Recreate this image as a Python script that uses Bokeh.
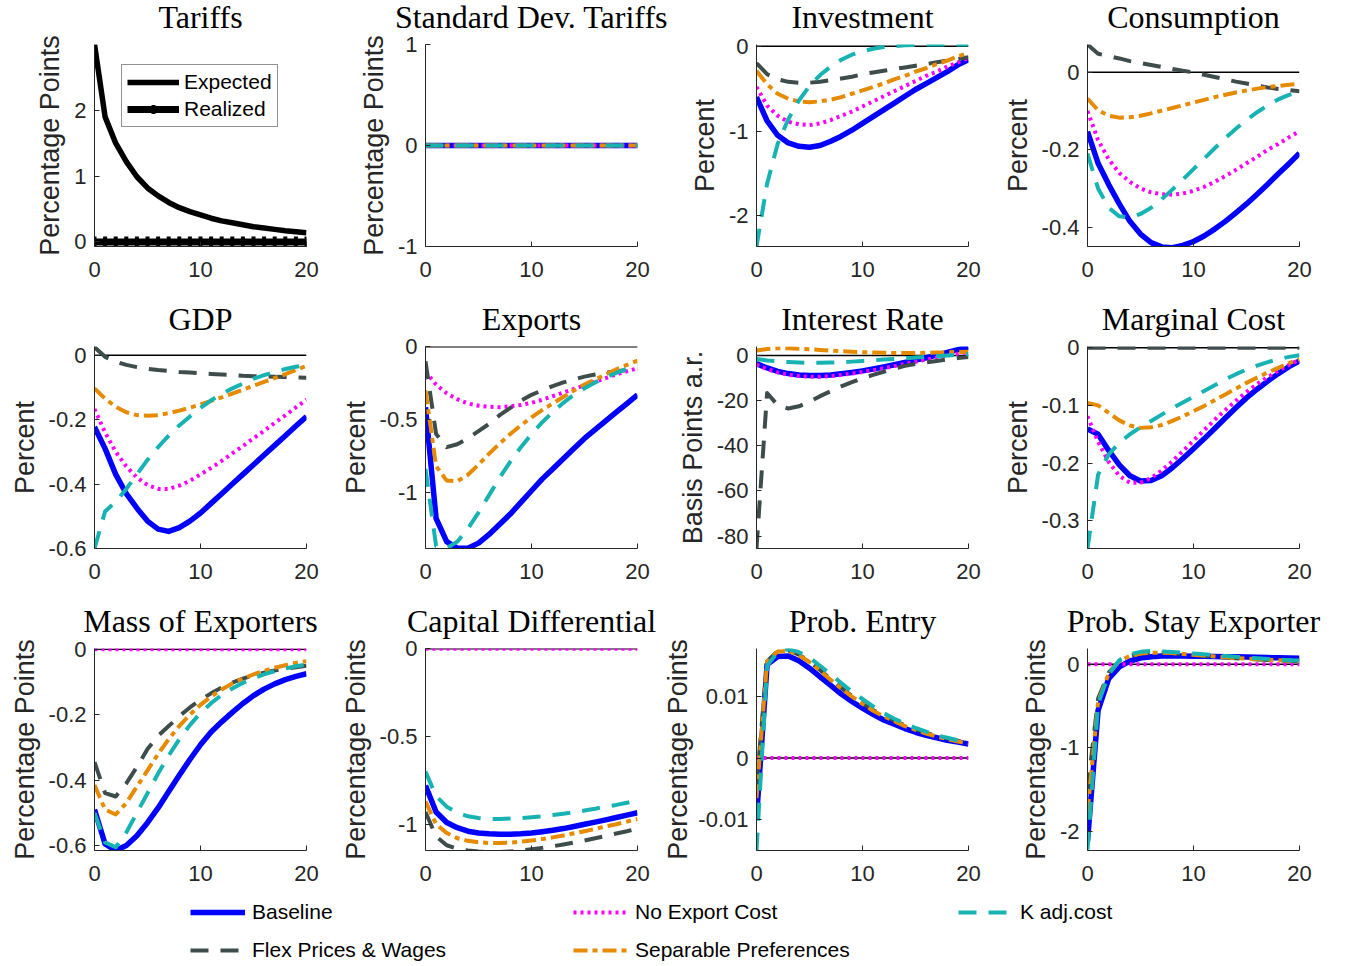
from bokeh.plotting import figure
from bokeh.models import Range1d, FixedTicker, CustomJSTickFormatter, Legend, LegendItem, Span
from bokeh.layouts import column, row
from bokeh.embed import file_html
from bokeh.resources import INLINE

periods = [0, 1, 2, 3, 4, 5, 6, 7, 8, 9, 10, 11, 12, 13, 14, 15, 16, 17, 18, 19, 20]
zeros = [0, 0, 0, 0, 0, 0, 0, 0, 0, 0, 0, 0, 0, 0, 0, 0, 0, 0, 0, 0, 0]
x_ticks = [0, 10, 20]

# ---------------- Tariffs ----------------
tariffs_expected = [3.0, 1.9, 1.5, 1.22, 0.99, 0.82, 0.70, 0.60, 0.52, 0.46, 0.41,
                    0.36, 0.32, 0.29, 0.26, 0.23, 0.21, 0.19, 0.17, 0.155, 0.14]
tariffs_realized = [0, 0, 0, 0, 0, 0, 0, 0, 0, 0, 0, 0, 0, 0, 0, 0, 0, 0, 0, 0, 0]

scenario_names = ["Baseline", "No Export Cost", "K adj.cost",
                  "Flex Prices & Wages", "Separable Preferences"]

# ---------------- Investment ----------------
inv_base = [-0.60, -0.88, -1.05, -1.14, -1.18, -1.19, -1.17, -1.12, -1.06, -0.99, -0.91,
            -0.83, -0.75, -0.67, -0.59, -0.51, -0.44, -0.37, -0.30, -0.22, -0.16]
inv_noexp = [-0.48, -0.70, -0.82, -0.89, -0.92, -0.93, -0.91, -0.87, -0.82, -0.77, -0.71,
             -0.65, -0.59, -0.53, -0.47, -0.41, -0.35, -0.30, -0.24, -0.19, -0.14]
inv_kadj = [-2.36, -1.62, -1.15, -0.86, -0.64, -0.47, -0.34, -0.24, -0.16, -0.10, -0.06,
            -0.03, -0.01, 0.0, 0.01, 0.015, 0.02, 0.02, 0.02, 0.02, 0.02]
inv_flex = [-0.20, -0.33, -0.39, -0.42, -0.43, -0.43, -0.42, -0.40, -0.38, -0.36, -0.33,
            -0.31, -0.29, -0.27, -0.25, -0.23, -0.21, -0.19, -0.17, -0.15, -0.13]
inv_sep = [-0.29, -0.45, -0.56, -0.62, -0.65, -0.66, -0.65, -0.63, -0.60, -0.56, -0.52,
           -0.48, -0.44, -0.39, -0.35, -0.30, -0.26, -0.21, -0.17, -0.12, -0.08]

# ---------------- Consumption ----------------
con_base = [-0.153, -0.235, -0.29, -0.34, -0.385, -0.418, -0.44, -0.451, -0.453, -0.447, -0.437,
            -0.423, -0.405, -0.385, -0.363, -0.34, -0.315, -0.289, -0.262, -0.236, -0.209]
con_noexp = [-0.10, -0.175, -0.225, -0.26, -0.283, -0.30, -0.31, -0.315, -0.316, -0.313, -0.306,
             -0.296, -0.283, -0.268, -0.252, -0.235, -0.218, -0.20, -0.185, -0.168, -0.152]
con_kadj = [-0.21, -0.30, -0.35, -0.372, -0.375, -0.366, -0.35, -0.328, -0.303, -0.277, -0.25,
            -0.223, -0.196, -0.17, -0.146, -0.123, -0.103, -0.085, -0.07, -0.058, -0.05]
con_flex = [0.072, 0.048, 0.042, 0.036, 0.029, 0.024, 0.019, 0.014, 0.009, 0.004, 0.0,
            -0.006, -0.012, -0.018, -0.024, -0.029, -0.034, -0.039, -0.043, -0.046, -0.049]
con_sep = [-0.068, -0.098, -0.112, -0.117, -0.116, -0.112, -0.106, -0.099, -0.092, -0.085, -0.078,
           -0.071, -0.064, -0.058, -0.052, -0.047, -0.042, -0.038, -0.035, -0.032, -0.030]

# ---------------- GDP ----------------
gdp_base = [-0.223, -0.29, -0.37, -0.43, -0.475, -0.515, -0.54, -0.547, -0.535, -0.515, -0.49,
            -0.46, -0.43, -0.40, -0.37, -0.34, -0.31, -0.28, -0.25, -0.22, -0.19]
gdp_noexp = [-0.167, -0.24, -0.30, -0.345, -0.38, -0.403, -0.415, -0.415, -0.405, -0.39, -0.37,
             -0.35, -0.328, -0.305, -0.282, -0.258, -0.235, -0.21, -0.187, -0.162, -0.138]
gdp_kadj = [-0.60, -0.485, -0.455, -0.415, -0.37, -0.325, -0.285, -0.25, -0.218, -0.19, -0.164,
            -0.14, -0.12, -0.103, -0.088, -0.073, -0.062, -0.052, -0.043, -0.036, -0.03]
gdp_flex = [0.025, -0.005, -0.02, -0.03, -0.037, -0.042, -0.046, -0.049, -0.052, -0.054, -0.056,
            -0.058, -0.06, -0.062, -0.064, -0.065, -0.066, -0.067, -0.068, -0.069, -0.07]
gdp_sep = [-0.103, -0.135, -0.16, -0.177, -0.186, -0.188, -0.186, -0.18, -0.172, -0.163, -0.153,
           -0.142, -0.131, -0.119, -0.107, -0.095, -0.083, -0.071, -0.059, -0.046, -0.033]

# ---------------- Exports ----------------
exp_base = [-0.415, -1.18, -1.34, -1.385, -1.385, -1.35, -1.29, -1.22, -1.15, -1.07, -0.99,
            -0.91, -0.84, -0.77, -0.70, -0.63, -0.57, -0.51, -0.45, -0.39, -0.33]
exp_noexp = [-0.17, -0.26, -0.32, -0.36, -0.39, -0.405, -0.412, -0.415, -0.41, -0.40, -0.385,
             -0.365, -0.34, -0.315, -0.29, -0.265, -0.24, -0.215, -0.19, -0.168, -0.148]
exp_kadj = [-0.84, -1.37, -1.385, -1.34, -1.25, -1.14, -1.02, -0.90, -0.79, -0.69, -0.60,
            -0.52, -0.45, -0.385, -0.33, -0.285, -0.245, -0.21, -0.18, -0.15, -0.125]
exp_flex = [-0.10, -0.60, -0.69, -0.67, -0.63, -0.58, -0.53, -0.47, -0.42, -0.37, -0.33,
            -0.30, -0.27, -0.245, -0.225, -0.205, -0.19, -0.178, -0.168, -0.16, -0.155]
exp_sep = [-0.30, -0.82, -0.92, -0.925, -0.88, -0.81, -0.735, -0.665, -0.60, -0.54, -0.485,
           -0.435, -0.39, -0.345, -0.30, -0.26, -0.225, -0.19, -0.155, -0.125, -0.095]

# ---------------- Interest Rate ----------------
ir_base = [-3.6, -5.5, -7.0, -8.0, -8.6, -8.9, -8.9, -8.6, -8.1, -7.5, -6.8,
           -6.0, -5.1, -4.1, -3.1, -2.0, -1.0, 0.2, 1.4, 2.6, 3.8]
ir_noexp = [-4.0, -6.0, -7.5, -8.5, -9.1, -9.4, -9.4, -9.1, -8.6, -8.0, -7.3,
            -6.5, -5.6, -4.7, -3.7, -2.8, -1.8, -0.9, 0.0, 0.8, 1.5]
ir_kadj = [-1.5, -2.2, -2.6, -2.9, -3.1, -3.2, -3.2, -3.1, -3.0, -2.7, -2.4,
           -2.1, -1.8, -1.5, -1.2, -0.9, -0.6, -0.3, 0.0, 0.3, 0.6]
ir_flex = [-85.4, -16.6, -22.0, -23.5, -22.5, -20.5, -18.0, -15.8, -13.7, -11.8, -10.0,
           -8.6, -7.2, -5.8, -4.6, -3.7, -3.0, -2.4, -1.7, -1.1, -0.7]
ir_sep = [2.2, 2.9, 3.2, 3.2, 3.0, 2.8, 2.5, 2.2, 1.9, 1.7, 1.5,
          1.3, 1.2, 1.1, 1.1, 1.1, 1.2, 1.3, 1.4, 1.6, 1.7]

# ---------------- Marginal Cost ----------------
mc_base = [-0.141, -0.150, -0.178, -0.203, -0.222, -0.231, -0.230, -0.222, -0.208, -0.192, -0.175,
           -0.158, -0.140, -0.122, -0.104, -0.087, -0.072, -0.058, -0.045, -0.033, -0.023]
mc_noexp = [-0.119, -0.163, -0.198, -0.222, -0.234, -0.234, -0.226, -0.213, -0.197, -0.179, -0.161,
            -0.143, -0.125, -0.108, -0.092, -0.077, -0.063, -0.051, -0.040, -0.030, -0.021]
mc_kadj = [-0.348, -0.22, -0.185, -0.165, -0.15, -0.138, -0.127, -0.116, -0.105, -0.095, -0.085,
           -0.075, -0.065, -0.055, -0.046, -0.038, -0.031, -0.025, -0.020, -0.016, -0.013]
mc_flex = [0, 0, 0, 0, 0, 0, 0, 0, 0, 0, 0, 0, 0, 0, 0, 0, 0, 0, 0, 0, 0]
mc_sep = [-0.096, -0.100, -0.113, -0.126, -0.135, -0.139, -0.138, -0.134, -0.127, -0.119, -0.110,
          -0.101, -0.091, -0.081, -0.071, -0.061, -0.052, -0.043, -0.035, -0.027, -0.020]

# ---------------- Mass of Exporters ----------------
mass_base = [-0.49, -0.595, -0.615, -0.60, -0.57, -0.53, -0.485, -0.435, -0.385, -0.337, -0.292,
             -0.253, -0.222, -0.193, -0.166, -0.142, -0.122, -0.106, -0.093, -0.083, -0.075]
mass_noexp = [0, 0, 0, 0, 0, 0, 0, 0, 0, 0, 0, 0, 0, 0, 0, 0, 0, 0, 0, 0, 0]
mass_kadj = [-0.50, -0.59, -0.605, -0.56, -0.50, -0.44, -0.38, -0.325, -0.275, -0.232, -0.195,
             -0.165, -0.14, -0.12, -0.103, -0.089, -0.077, -0.067, -0.059, -0.052, -0.047]
mass_flex = [-0.345, -0.44, -0.45, -0.41, -0.36, -0.305, -0.265, -0.235, -0.205, -0.178, -0.155,
             -0.135, -0.117, -0.102, -0.09, -0.08, -0.072, -0.065, -0.06, -0.055, -0.051]
mass_sep = [-0.415, -0.49, -0.505, -0.47, -0.42, -0.37, -0.32, -0.275, -0.235, -0.20, -0.17,
            -0.145, -0.123, -0.105, -0.09, -0.077, -0.066, -0.057, -0.049, -0.042, -0.037]

# ---------------- Capital Differential ----------------
cap_base = [-0.78, -0.93, -0.99, -1.02, -1.04, -1.05, -1.055, -1.058, -1.058, -1.055, -1.05,
            -1.043, -1.035, -1.025, -1.013, -1.0, -0.988, -0.975, -0.962, -0.948, -0.935]
cap_noexp = [0, 0, 0, 0, 0, 0, 0, 0, 0, 0, 0, 0, 0, 0, 0, 0, 0, 0, 0, 0, 0]
cap_kadj = [-0.70, -0.84, -0.90, -0.935, -0.955, -0.965, -0.97, -0.97, -0.968, -0.965, -0.96,
            -0.955, -0.948, -0.94, -0.932, -0.922, -0.912, -0.90, -0.89, -0.878, -0.865]
cap_flex = [-0.93, -1.07, -1.12, -1.14, -1.15, -1.155, -1.158, -1.158, -1.155, -1.15, -1.143,
            -1.135, -1.126, -1.116, -1.105, -1.093, -1.08, -1.067, -1.053, -1.04, -1.025]
cap_sep = [-0.87, -1.0, -1.05, -1.08, -1.095, -1.103, -1.107, -1.107, -1.105, -1.10, -1.093,
           -1.085, -1.075, -1.064, -1.052, -1.04, -1.027, -1.013, -1.0, -0.985, -0.97]

# ---------------- Prob. Entry ----------------
ent_base = [-0.0097, 0.0152, 0.0165, 0.0166, 0.0158, 0.0146, 0.0132, 0.0118, 0.0104, 0.0092, 0.0081,
            0.0071, 0.0062, 0.0055, 0.0048, 0.0042, 0.0037, 0.0033, 0.0029, 0.0026, 0.0023]
ent_noexp = [0, 0, 0, 0, 0, 0, 0, 0, 0, 0, 0, 0, 0, 0, 0, 0, 0, 0, 0, 0, 0]
ent_kadj = [-0.015, 0.015, 0.0172, 0.0177, 0.0172, 0.0163, 0.015, 0.0136, 0.0122, 0.0108, 0.0096,
            0.0084, 0.0073, 0.0064, 0.0056, 0.0049, 0.0043, 0.0037, 0.0033, 0.0029, 0.0025]
ent_flex = [-0.0045, 0.0157, 0.0174, 0.0175, 0.0168, 0.0157, 0.0143, 0.0128, 0.0114, 0.0101, 0.0089,
            0.0078, 0.0069, 0.0061, 0.0053, 0.0047, 0.0041, 0.0036, 0.0032, 0.0028, 0.0025]
ent_sep = [-0.0065, 0.0157, 0.0173, 0.0174, 0.0167, 0.0156, 0.0142, 0.0127, 0.0113, 0.010, 0.0088,
           0.0077, 0.0068, 0.006, 0.0052, 0.0046, 0.004, 0.0035, 0.0031, 0.0027, 0.0024]

# ---------------- Prob. Stay Exporter ----------------
stay_base = [-2.12, -0.55, -0.17, -0.03, 0.04, 0.075, 0.09, 0.10, 0.10, 0.10, 0.098,
             0.096, 0.094, 0.092, 0.09, 0.087, 0.084, 0.081, 0.078, 0.075, 0.072]
stay_noexp = [0, 0, 0, 0, 0, 0, 0, 0, 0, 0, 0, 0, 0, 0, 0, 0, 0, 0, 0, 0, 0]
stay_kadj = [-2.22, -0.47, -0.12, 0.05, 0.12, 0.15, 0.16, 0.155, 0.148, 0.14, 0.13,
             0.12, 0.11, 0.10, 0.09, 0.08, 0.072, 0.064, 0.057, 0.05, 0.045]
stay_flex = [-1.51, -0.41, -0.10, 0.04, 0.10, 0.13, 0.14, 0.14, 0.133, 0.123, 0.113,
             0.103, 0.093, 0.083, 0.074, 0.066, 0.059, 0.053, 0.048, 0.043, 0.038]
stay_sep = [-1.78, -0.45, -0.11, 0.04, 0.10, 0.13, 0.14, 0.14, 0.135, 0.125, 0.115,
            0.105, 0.095, 0.085, 0.076, 0.068, 0.061, 0.055, 0.05, 0.045, 0.04]

# ---------------- Standard Dev. Tariffs ----------------
sd_all = [0, 0, 0, 0, 0, 0, 0, 0, 0, 0, 0, 0, 0, 0, 0, 0, 0, 0, 0, 0, 0]

# ---------------- styling ----------------
STYLE = {
    "Baseline": dict(line_color="#0000FF", line_width=5.5),
    "No Export Cost": dict(line_color="#FF00FF", line_width=4, line_dash="3 4"),
    "K adj.cost": dict(line_color="#17B3B3", line_width=4, line_dash="18 12"),
    "Flex Prices & Wages": dict(line_color="#3E4C4C", line_width=4, line_dash="18 12"),
    "Separable Preferences": dict(line_color="#E68A00", line_width=4, line_dash="14 5 5 5"),
}
DRAW_ORDER = ["Baseline", "No Export Cost", "Flex Prices & Wages", "Separable Preferences", "K adj.cost"]

AX_COLOR = "#262626"
TICK_FONT = "Liberation Sans"
FRAME_W = 212
FRAME_H = 202
TOP = 61
COL_W = 331
LEFT = 94
ROW_HEIGHTS = [302, 302, 311]


def make_panel(title, ylabel, ymin, ymax, yticks, row_i, width=COL_W, left=LEFT,
               label_standoff=6):
    height = ROW_HEIGHTS[row_i]
    p = figure(width=width, height=height, output_backend="svg", toolbar_location=None,
               x_range=Range1d(0, 20), y_range=Range1d(ymin, ymax),
               min_border_left=left, min_border_right=width - left - FRAME_W,
               min_border_top=TOP, min_border_bottom=height - TOP - FRAME_H,
               title=title)
    p.title.text_font = "Liberation Serif"
    p.title.text_font_size = "32px"
    p.title.text_font_style = "normal"
    p.title.text_color = "black"
    p.title.align = "center"
    p.title.standoff = 19
    p.outline_line_color = None
    p.grid.visible = False
    p.background_fill_color = "white"
    p.border_fill_color = "white"
    fmt = CustomJSTickFormatter(code="return String(Math.round(tick*10000)/10000);")
    p.xaxis.ticker = FixedTicker(ticks=x_ticks, minor_ticks=[])
    p.yaxis.ticker = FixedTicker(ticks=yticks, minor_ticks=[])
    for ax in (p.xaxis[0], p.yaxis[0]):
        ax.formatter = fmt
        ax.major_tick_in = 5
        ax.major_tick_out = 0
        ax.minor_tick_in = 0
        ax.minor_tick_out = 0
        ax.axis_line_color = AX_COLOR
        ax.axis_line_width = 1
        ax.major_tick_line_color = AX_COLOR
        ax.major_label_text_font = TICK_FONT
        ax.major_label_text_font_size = "22px"
        ax.major_label_text_color = AX_COLOR
    p.xaxis.major_label_standoff = 15
    p.yaxis.major_label_standoff = 8
    p.yaxis.axis_label = ylabel
    p.yaxis.axis_label_text_font = TICK_FONT
    p.yaxis.axis_label_text_font_size = "27px"
    p.yaxis.axis_label_text_font_style = "normal"
    p.yaxis.axis_label_text_color = AX_COLOR
    p.yaxis.axis_label_standoff = label_standoff
    return p


def add_series(p, series, zero_line=True):
    if zero_line:
        p.add_layout(Span(location=0, dimension="width", line_color="black",
                          line_width=1.5, level="underlay"))
    for name in DRAW_ORDER:
        p.line(periods, series[name], line_join="round", **STYLE[name])


# Tariffs panel
p_tar = make_panel("Tariffs", "Percentage Points", -0.07, 3.0, [0, 1, 2], 0)
r_exp = p_tar.line(periods, tariffs_expected, line_color="black", line_width=5.5, line_join="round")
r_real = p_tar.line(periods, tariffs_realized, line_color="black", line_width=7)
r_real_m = p_tar.scatter(periods, tariffs_realized, marker="cross", size=11,
                         line_color="black", line_width=4)
tar_leg = Legend(items=[LegendItem(label="Expected", renderers=[r_exp]),
                        LegendItem(label="Realized", renderers=[r_real, r_real_m])],
                 location=(27, 119))
tar_leg.label_text_font = TICK_FONT
tar_leg.label_text_font_size = "21px"
tar_leg.label_text_color = "black"
tar_leg.border_line_color = AX_COLOR
tar_leg.border_line_width = 1
tar_leg.glyph_width = 52
tar_leg.glyph_height = 22
tar_leg.label_height = 22
tar_leg.label_standoff = 5
tar_leg.padding = 5
tar_leg.spacing = 3
tar_leg.margin = 0
tar_leg.background_fill_color = "white"
tar_leg.background_fill_alpha = 1
p_tar.add_layout(tar_leg)

p_sd = make_panel("Standard Dev. Tariffs", "Percentage Points", -1, 1, [-1, 0, 1], 0,
                  width=COL_W + 10)
add_series(p_sd, {n: sd_all for n in scenario_names})

p_inv = make_panel("Investment", "Percent", -2.36, 0.02, [-2, -1, 0], 0,
                   width=COL_W - 10, left=LEFT - 10)
add_series(p_inv, {"Baseline": inv_base, "No Export Cost": inv_noexp, "K adj.cost": inv_kadj,
                   "Flex Prices & Wages": inv_flex, "Separable Preferences": inv_sep})

p_con = make_panel("Consumption", "Percent", -0.45, 0.072, [-0.4, -0.2, 0], 0)
add_series(p_con, {"Baseline": con_base, "No Export Cost": con_noexp, "K adj.cost": con_kadj,
                   "Flex Prices & Wages": con_flex, "Separable Preferences": con_sep})

p_gdp = make_panel("GDP", "Percent", -0.6, 0.027, [-0.6, -0.4, -0.2, 0], 1)
add_series(p_gdp, {"Baseline": gdp_base, "No Export Cost": gdp_noexp, "K adj.cost": gdp_kadj,
                   "Flex Prices & Wages": gdp_flex, "Separable Preferences": gdp_sep})

p_exp = make_panel("Exports", "Percent", -1.387, 0.002, [-1, -0.5, 0], 1)
add_series(p_exp, {"Baseline": exp_base, "No Export Cost": exp_noexp, "K adj.cost": exp_kadj,
                   "Flex Prices & Wages": exp_flex, "Separable Preferences": exp_sep})

p_ir = make_panel("Interest Rate", "Basis Points a.r.", -85.5, 4.0, [-80, -60, -40, -20, 0], 1)
add_series(p_ir, {"Baseline": ir_base, "No Export Cost": ir_noexp, "K adj.cost": ir_kadj,
                  "Flex Prices & Wages": ir_flex, "Separable Preferences": ir_sep})

p_mc = make_panel("Marginal Cost", "Percent", -0.348, 0.002, [-0.3, -0.2, -0.1, 0], 1)
add_series(p_mc, {"Baseline": mc_base, "No Export Cost": mc_noexp, "K adj.cost": mc_kadj,
                  "Flex Prices & Wages": mc_flex, "Separable Preferences": mc_sep})

p_mass = make_panel("Mass of Exporters", "Percentage Points", -0.615, 0.002,
                    [-0.6, -0.4, -0.2, 0], 2)
add_series(p_mass, {"Baseline": mass_base, "No Export Cost": mass_noexp, "K adj.cost": mass_kadj,
                    "Flex Prices & Wages": mass_flex, "Separable Preferences": mass_sep})

p_cap = make_panel("Capital Differential", "Percentage Points", -1.15, 0.002, [-1, -0.5, 0], 2,
                   width=COL_W - 5)
add_series(p_cap, {"Baseline": cap_base, "No Export Cost": cap_noexp, "K adj.cost": cap_kadj,
                   "Flex Prices & Wages": cap_flex, "Separable Preferences": cap_sep})

p_ent = make_panel("Prob. Entry", "Percentage Points", -0.015, 0.0178, [-0.01, 0, 0.01], 2,
                   width=COL_W + 5, left=LEFT + 5, label_standoff=2)
add_series(p_ent, {"Baseline": ent_base, "No Export Cost": ent_noexp, "K adj.cost": ent_kadj,
                   "Flex Prices & Wages": ent_flex, "Separable Preferences": ent_sep})

p_stay = make_panel("Prob. Stay Exporter", "Percentage Points", -2.23, 0.19, [-2, -1, 0], 2)
add_series(p_stay, {"Baseline": stay_base, "No Export Cost": stay_noexp, "K adj.cost": stay_kadj,
                    "Flex Prices & Wages": stay_flex, "Separable Preferences": stay_sep})

# ---------------- shared legend ----------------
LEG_H = 68
p_leg = figure(width=4 * COL_W, height=LEG_H, output_backend="svg", toolbar_location=None,
               x_range=Range1d(0, 1), y_range=Range1d(0, 1),
               x_axis_type=None, y_axis_type=None, min_border=0)
p_leg.outline_line_color = None
p_leg.grid.visible = False
leg_r = {n: p_leg.line(periods, zeros, visible=False, **STYLE[n]) for n in scenario_names}


def bottom_legend(names, loc):
    lg = Legend(items=[LegendItem(label=n, renderers=[leg_r[n]]) for n in names], location=loc)
    lg.label_text_font = TICK_FONT
    lg.label_text_font_size = "21px"
    lg.label_text_color = "black"
    lg.glyph_width = 55
    lg.glyph_height = 24
    lg.label_height = 24
    lg.label_standoff = 7
    lg.spacing = 14
    lg.padding = 0
    lg.margin = 0
    lg.border_line_color = None
    lg.background_fill_alpha = 0
    lg.inactive_fill_alpha = 0
    p_leg.add_layout(lg)


bottom_legend(["Baseline", "Flex Prices & Wages"], (190, 4))
bottom_legend(["No Export Cost", "Separable Preferences"], (573, 4))
bottom_legend(["K adj.cost"], (958, 42))

layout = column(
    row(p_tar, p_sd, p_inv, p_con),
    row(p_gdp, p_exp, p_ir, p_mc),
    row(p_mass, p_cap, p_ent, p_stay),
    p_leg,
    margin=(-17, 0, 0, 0),
)

open("out.html", "w").write(file_html(layout, INLINE))
